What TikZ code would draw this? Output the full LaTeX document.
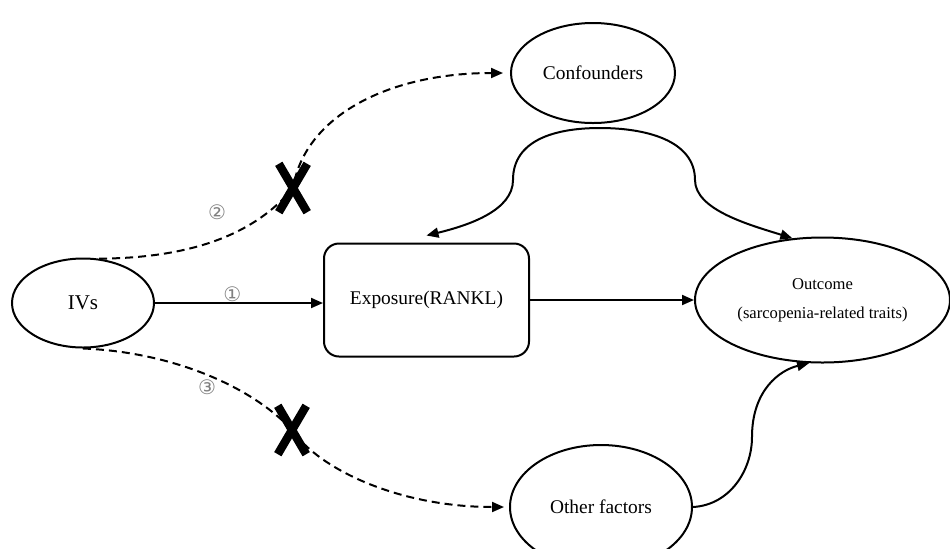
\documentclass[tikz,border=0pt]{standalone}
\usepackage{fontspec}
\setmainfont{Liberation Serif}
\newfontfamily\circfont{DejaVu Sans}
\usetikzlibrary{arrows.meta,positioning,shapes.geometric,shapes.misc}

\begin{document}
\begin{tikzpicture}[x=0.5pt,y=-0.5pt,>={Triangle[length=6pt,width=5pt]},line width=1pt,
  oval/.style={draw,ellipse,inner sep=0pt,font=\fontsize{9.7}{11}\selectfont},
  box/.style={draw,rounded corners=7.5pt,inner sep=0pt,minimum width=102.5pt,minimum height=56.5pt,font=\fontsize{9.7}{11}\selectfont},
  link/.style={->},
  blocked/.style={->,dash pattern=on 4pt off 2.5pt},
  cut/.style={draw,cross out,line width=4.2pt,minimum width=10pt,minimum height=20pt,inner sep=0pt},
  tag/.style={text=gray,font=\circfont\fontsize{10}{11}\selectfont,inner sep=0pt}]
\clip (0,0) rectangle (950,548);
% nodes
\node[oval,minimum width=71pt,minimum height=44.5pt,font=\fontsize{10.5}{12}\selectfont] (ivs) at (83,303) {\raisebox{-1.5pt}{IVs}};
\node[box] (exposure) at (426.5,300) {Exposure(RANKL)};
\node[oval,minimum width=127.5pt,minimum height=62.5pt,align=center,font=\fontsize{8.3}{10}\selectfont] (outcome) at (822.5,300) {Outcome\\[4.5pt](sarcopenia-related traits)};
\node[oval,minimum width=82pt,minimum height=50pt] (confounders) at (593,73) {Confounders};
\node[oval,minimum width=91pt,minimum height=62pt] (other) at (601,507) {Other factors};
\coordinate (cut1) at (293,188);
\coordinate (cut2) at (292,430);
% main path
\draw[link] (ivs.east) -- (ivs.east -| exposure.west) node[tag,pos=0.46,above=0pt] (n1) {①};
\draw[link] (exposure.east) -- (exposure.east -| outcome.west);
% violated assumptions
\draw[blocked,shorten >=3.5pt] (ivs.70) .. controls (180,258) and (250,240) .. (cut1)
  .. controls (305,115) and (390,73) .. (confounders.west);
\draw[blocked,shorten >=2.5pt] (ivs.south) .. controls (170,352) and (250,385) .. (cut2)
  .. controls (320,470) and (400,507) .. (other.west);
\node[cut] (mark1) at (cut1) {};
\node[cut] (mark2) at (cut2) {};
\node[tag] (n2) at (217,212) {②};
\node[tag] (n3) at (207,387) {③};
% confounding and other effects
\draw[<->] ([yshift=3.5pt]exposure.north) .. controls (470,225) and (513,210) .. (513,180)
  .. controls (513,140) and (555,128) .. (600,128)
  .. controls (645,128) and (695,140) .. (695,180)
  .. controls (695,210) and (750,225) .. (outcome.116);
\draw[link] (other.east) .. controls (730,505) and (752,470) .. (752,437)
  .. controls (752,390) and (780,370) .. (outcome.258);
\end{tikzpicture}
\end{document}
